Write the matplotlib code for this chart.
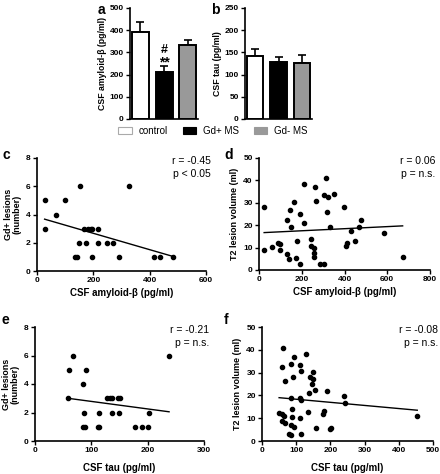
import matplotlib
matplotlib.use("Agg")
from matplotlib import pyplot as plt
from matplotlib.patches import Patch

plt.rcParams['font.family'] = ['Liberation Sans', 'DejaVu Sans']

W, H = 440, 474

# bar panels (a: amyloid-beta, b: tau), mean and SEM
groups = ['control', 'Gd+ MS', 'Gd- MS']
bar_colors = ['white', 'black', '#999999']
abeta_mean = [392, 212, 332]
abeta_sem = [43, 25, 25]
tau_mean = [143, 129, 125]
tau_sem = [14, 10, 19]

# c: CSF amyloid-beta vs Gd+ lesions
c_x = [27, 27, 66, 99, 154, 326, 135, 141, 149, 173, 168, 180, 190, 197, 215, 215,
       197, 250, 270, 290, 417, 437, 483]
c_y = [5, 3, 4, 5, 6, 6, 1, 1, 2, 2, 3, 3, 3, 3, 3, 2, 1, 2, 2, 1, 1, 1, 1]
c_fit_x = [27, 483]
c_fit_y = [3.67, 1.03]

# d: CSF amyloid-beta vs T2 lesion volume
d_x = [24, 24, 62, 91, 99, 96, 131, 147, 151, 163, 131, 139, 171, 178, 194, 191, 210,
       210, 245, 242, 258, 258, 258, 261, 266, 285, 306, 303, 312, 322, 319, 331, 349,
       398, 406, 414, 430, 449, 468, 478, 585, 672]
d_y = [28.1, 9.0, 10.3, 11.9, 11.6, 9.0, 22.1, 26.9, 19.4, 30.3, 7.0, 4.9, 5.2, 12.8,
       2.8, 25.1, 21.2, 38.5, 13.7, 10.9, 10.0, 7.8, 5.7, 37.0, 30.9, 2.5, 2.8, 33.6,
       41.0, 32.8, 26.1, 19.0, 34.0, 28.1, 10.9, 11.9, 17.5, 13.0, 19.0, 22.1, 16.4, 6.0]
d_fit_x = [24, 672]
d_fit_y = [16.7, 19.7]

# e: CSF tau vs Gd+ lesions
e_x = [58, 60, 68, 91, 85, 87, 85, 88, 113, 112, 114, 128, 133, 136, 137, 147, 150,
       149, 177, 190, 201, 202, 238]
e_y = [3, 5, 6, 5, 4, 2, 1, 1, 2, 1, 1, 3, 3, 3, 2, 3, 3, 2, 1, 1, 1, 2, 6]
e_fit_x = [58, 238]
e_fit_y = [3.0, 2.05]

# f: CSF tau vs T2 lesion volume
f_x = [61, 130, 95, 86, 112, 58, 115, 149, 92, 139, 68, 149, 147, 154, 137, 190, 86,
       112, 113, 239, 244, 50, 58, 64, 88, 59, 68, 88, 86, 95, 112, 135, 178, 182, 159,
       198, 203, 79, 86, 115, 454]
f_y = [40.9, 38.3, 37.0, 33.8, 33.3, 32.6, 30.8, 30.3, 27.9, 28.2, 26.3, 27.0, 25.0,
       22.2, 21.1, 22.1, 19.0, 19.0, 17.8, 19.6, 16.5, 12.1, 11.7, 11.1, 13.9, 8.8, 7.7,
       10.4, 7.0, 6.3, 9.9, 12.7, 12.0, 13.0, 5.8, 5.1, 5.6, 3.1, 2.6, 3.1, 11.1]
f_fit_x = [50, 454]
f_fit_y = [19.0, 13.5]


def box(x0, y0, x1, y1):
    return [x0 / W, 1 - y1 / H, (x1 - x0) / W, (y1 - y0) / H]


def px(x, y):
    return x / W, 1 - y / H


def style(ax):
    for s in ['top', 'right']:
        ax.spines[s].set_visible(False)
    for s in ['left', 'bottom']:
        ax.spines[s].set_linewidth(1.2)
    ax.tick_params(direction='out', length=3, width=1.0, labelsize=6, pad=1.5)
    for lab in ax.get_xticklabels() + ax.get_yticklabels():
        lab.set_fontweight('bold')


fig = plt.figure(figsize=(W / 100, H / 100), dpi=100)

# bar charts
pos = [0, 1, 2]
for rect, mean, sem, ymax, step, ylab in [
        (box(130, 8, 198, 119), abeta_mean, abeta_sem, 500, 100, 'CSF amyloid-β (pg/ml)'),
        (box(245, 8, 312, 119), tau_mean, tau_sem, 250, 50, 'CSF tau (pg/ml)')]:
    ax = fig.add_axes(rect)
    ax.bar(pos, mean, width=0.71, color=bar_colors, edgecolor='black', linewidth=1.4, zorder=2)
    ax.errorbar(pos, mean, yerr=[[0, 0, 0], sem], fmt='none', ecolor='black',
                elinewidth=1.2, capsize=3, capthick=1.2, zorder=1)
    ax.set_xlim(-0.42, 2.42)
    ax.set_ylim(0, ymax)
    ax.set_yticks(range(0, ymax + 1, step))
    ax.set_xticks([])
    ax.set_ylabel(ylab, fontsize=6.3, fontweight='bold', labelpad=2)
    style(ax)
    if ymax == 500:
        ax.text(1, 255, '**', ha='center', va='center', fontsize=10, fontweight='bold')
        ax.text(1, 310, '#', ha='center', va='center', fontsize=9, fontweight='bold')

handles = [Patch(facecolor=c, edgecolor='#aaaaaa' if c == 'white' else c, linewidth=0.8)
           for c in bar_colors]
fig.legend(handles, groups, loc='center', bbox_to_anchor=px(213, 131), ncol=3,
           frameon=False, fontsize=7, handlelength=1.4, handleheight=0.7,
           columnspacing=1.5, handletextpad=0.7)

# scatter panels
panels = [
    (box(37, 158, 206, 271), c_x, c_y, c_fit_x, c_fit_y, 600, 200, 8, 2,
     'Gd+ lesions\n(number)', 'CSF amyloid-β (pg/ml)', 'r = -0.45', 'p < 0.05'),
    (box(259, 158, 430, 270), d_x, d_y, d_fit_x, d_fit_y, 800, 200, 50, 10,
     'T2 lesion volume (ml)', 'CSF amyloid-β (pg/ml)', 'r = 0.06', 'p = n.s.'),
    (box(35, 327, 204, 441), e_x, e_y, e_fit_x, e_fit_y, 300, 100, 8, 2,
     'Gd+ lesions\n(number)', 'CSF tau (pg/ml)', 'r = -0.21', 'p = n.s.'),
    (box(262, 327, 433, 441), f_x, f_y, f_fit_x, f_fit_y, 500, 100, 50, 10,
     'T2 lesion volume (ml)', 'CSF tau (pg/ml)', 'r = -0.08', 'p = n.s.'),
]
for rect, x, y, fx, fy, xmax, xstep, ymax, ystep, ylab, xlab, rtxt, ptxt in panels:
    ax = fig.add_axes(rect)
    ax.scatter(x, y, s=9, color='black', zorder=3, clip_on=False)
    ax.plot(fx, fy, color='black', linewidth=1.0)
    ax.set_xlim(0, xmax)
    ax.set_ylim(0, ymax)
    ax.set_xticks(range(0, xmax + 1, xstep))
    ax.set_yticks(range(0, ymax + 1, ystep))
    ax.set_ylabel(ylab, fontsize=6.5, fontweight='bold', labelpad=3, linespacing=1.0)
    pad = 2.5 if xmax in (600, 800) else 6
    ax.set_xlabel(xlab, fontsize=7, fontweight='bold', labelpad=pad)
    style(ax)
    ax.text(1.03, 0.97, rtxt, transform=ax.transAxes, ha='right', va='center', fontsize=7.5)
    ax.text(1.03, 0.86, ptxt, transform=ax.transAxes, ha='right', va='center', fontsize=7.5)

# panel letters
for letter, (lx, ly) in zip('abcdef', [(101, 10), (215, 10), (6, 155), (229, 155),
                                        (5, 320), (226, 320)]):
    fig.text(*px(lx, ly), letter, ha='center', va='center', fontsize=10, fontweight='bold')

fig.savefig('out.png', dpi=100)
